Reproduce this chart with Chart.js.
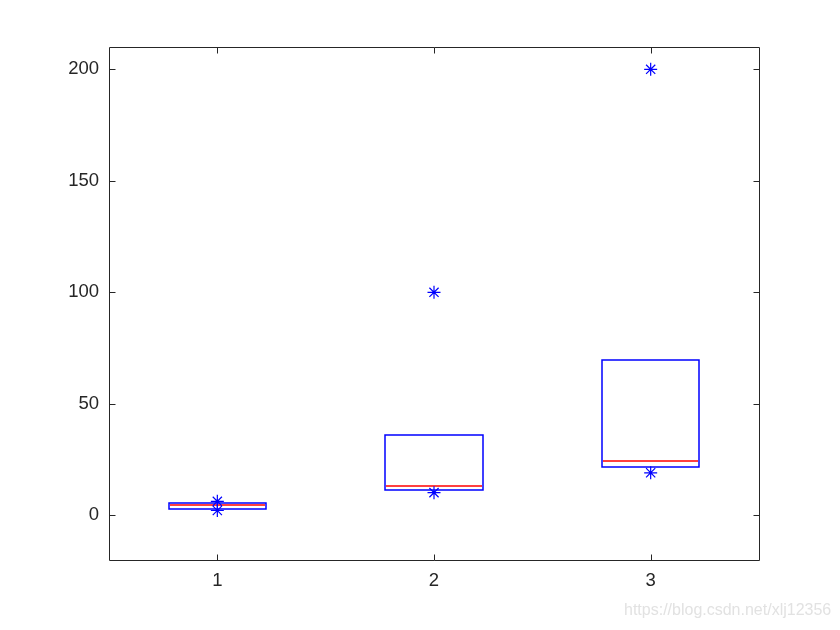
<!DOCTYPE html>
<html>
<head>
<meta charset="utf-8">
<script src="https://cdn.jsdelivr.net/npm/chart.js@4"></script>
<style>
  body { margin: 0; background: #fff; }
  #wrap { position: relative; width: 840px; height: 630px; }
  #mark { position: absolute; left: 624px; top: 601px; font: 16px "Liberation Sans", Arial, sans-serif; color: #e2e2e2; white-space: nowrap; }
</style>
</head>
<body>
<div id="wrap">
  <canvas id="box" width="840" height="630"></canvas>
  <div id="mark">https://blog.csdn.net/xlj12356</div>
</div>
<script>
// box plot data
const groups = [1, 2, 3];
const q1 = [3.0, 11.2, 21.6];
const q3 = [5.6, 35.9, 69.7];
const medians = [4.6, 13.4, 24.2];
const outliers = [[6.3, 2.2], [100, 10.2], [200, 19.1]];
const yTicks = [0, 50, 100, 150, 200];
const halfWidth = 0.225;

const axisColor = '#262626';
const tickFont = { family: '"Liberation Sans", Arial, sans-serif', size: 18.5 };

// outlier points for the scatter dataset
const outlierPoints = [];
groups.forEach((g, i) => {
  outliers[i].forEach(v => outlierPoints.push({ x: g, y: v }));
});

// draws boxes, medians and the axis frame with inward ticks
const boxPlugin = {
  id: 'boxPlugin',
  beforeDatasetsDraw(chart) {
    const ctx = chart.ctx;
    const xs = chart.scales.x, ys = chart.scales.y;
    ctx.save();
    ctx.lineWidth = 1.5;
    groups.forEach((g, i) => {
      const l = Math.round(xs.getPixelForValue(g - halfWidth));
      const r = Math.round(xs.getPixelForValue(g + halfWidth));
      const t = Math.round(ys.getPixelForValue(q3[i]));
      const b = Math.round(ys.getPixelForValue(q1[i]));
      ctx.strokeStyle = '#0000ff';
      ctx.beginPath();
      ctx.rect(l, t, r - l, b - t);
      ctx.stroke();
      const m = Math.round(ys.getPixelForValue(medians[i]));
      ctx.strokeStyle = '#ff0000';
      ctx.beginPath();
      ctx.moveTo(l + 1, m);
      ctx.lineTo(r - 1, m);
      ctx.stroke();
    });
    ctx.restore();
  },
  afterDraw(chart) {
    const ctx = chart.ctx;
    const a = chart.chartArea;
    const xs = chart.scales.x, ys = chart.scales.y;
    const L = Math.round(a.left) + 0.5, R = Math.round(a.right) + 0.5;
    const T = Math.round(a.top) + 0.5, B = Math.round(a.bottom) + 0.5;
    ctx.save();
    ctx.strokeStyle = axisColor;
    ctx.lineWidth = 1;
    ctx.beginPath();
    ctx.rect(L, T, R - L, B - T);
    const tl = 6;
    yTicks.forEach(v => {
      const y = Math.round(ys.getPixelForValue(v)) + 0.5;
      ctx.moveTo(L, y); ctx.lineTo(L + tl, y);
      ctx.moveTo(R, y); ctx.lineTo(R - tl, y);
    });
    groups.forEach(g => {
      const x = Math.round(xs.getPixelForValue(g)) + 0.5;
      ctx.moveTo(x, B); ctx.lineTo(x, B - tl);
      ctx.moveTo(x, T); ctx.lineTo(x, T + tl);
    });
    ctx.stroke();
    ctx.restore();
  }
};

new Chart(document.getElementById('box'), {
  type: 'scatter',
  data: {
    datasets: [{
      data: outlierPoints,
      pointStyle: 'star',
      radius: 6.5,
      borderColor: '#0000ff',
      backgroundColor: '#0000ff',
      borderWidth: 1.2
    }]
  },
  options: {
    responsive: false,
    animation: false,
    layout: { padding: { top: 47, right: 81 } },
    plugins: { legend: { display: false }, tooltip: { enabled: false } },
    scales: {
      x: {
        type: 'linear',
        min: 0.5,
        max: 3.5,
        afterBuildTicks: s => { s.ticks = groups.map(v => ({ value: v })); },
        afterFit: s => { s.height = 70; },
        grid: { display: false },
        border: { display: false },
        ticks: { color: axisColor, padding: 2, font: tickFont }
      },
      y: {
        min: -20,
        max: 210,
        afterBuildTicks: s => { s.ticks = yTicks.map(v => ({ value: v })); },
        afterFit: s => { s.width = 109; },
        grid: { display: false },
        border: { display: false },
        ticks: { color: axisColor, padding: 2, font: tickFont }
      }
    }
  },
  plugins: [boxPlugin]
});
</script>
</body>
</html>
